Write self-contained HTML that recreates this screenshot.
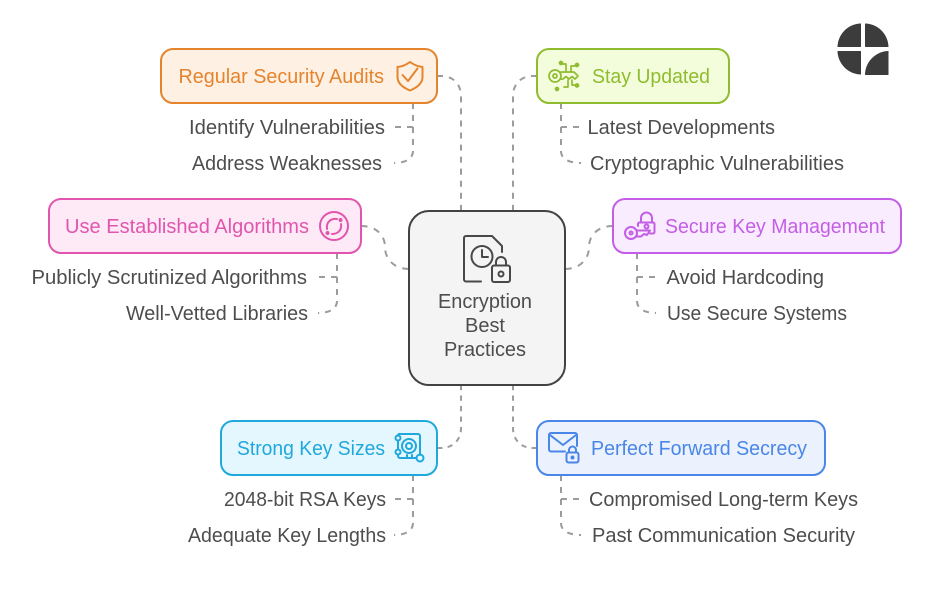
<!DOCTYPE html>
<html><head><meta charset="utf-8"><style>
html,body{margin:0;padding:0;background:#fff}
svg{display:block}
text{font-family:"Liberation Sans",sans-serif;font-size:20px;fill:#4d4d4d}
.c{fill:none;stroke:#9c9c9c;stroke-width:2;stroke-dasharray:6 6}
.i{fill:none;stroke-width:2;stroke-linecap:round;stroke-linejoin:round}
</style></head><body>
<svg width="926" height="596" viewBox="0 0 926 596" xmlns="http://www.w3.org/2000/svg">
<path class="c" pathLength="150" d="M437 76H441C453 76 461 84 461 96V211"/>
<path class="c" pathLength="150" d="M537 76H533C521 76 513 84 513 96V211"/>
<path class="c" pathLength="66" d="M361 226C376 226 385 235 385 247C385 259 394 269 409 269"/>
<path class="c" pathLength="66" d="M613 226C598 226 589 235 589 247C589 259 580 269 565 269"/>
<path class="c" pathLength="90" d="M461 385V428C461 440 453 448 441 448H437"/>
<path class="c" pathLength="90" d="M513 385V428C513 440 521 448 533 448H537"/>
<path class="c" d="M413 103V151C413 159 405 163 394 163"/>
<path class="c" d="M413 127H394"/>
<path class="c" d="M561 103V151C561 159 569 163 581 163"/>
<path class="c" d="M561 127H581"/>
<path class="c" d="M337 253V301C337 309 329 313 318 313"/>
<path class="c" d="M337 277H318"/>
<path class="c" d="M637 253V301C637 309 645 313 656 313"/>
<path class="c" d="M637 277H656"/>
<path class="c" d="M413 475V523C413 531 405 535 394 535"/>
<path class="c" d="M413 499H394"/>
<path class="c" d="M561 475V523C561 531 569 535 581 535"/>
<path class="c" d="M561 499H581"/>

<rect x="161" y="49" width="276" height="54" rx="12" fill="#fef0e3" stroke="#e5842d" stroke-width="2"/>
<rect x="537" y="49" width="192" height="54" rx="12" fill="#f3fddc" stroke="#8fbc2e" stroke-width="2"/>
<rect x="49" y="199" width="312" height="54" rx="12" fill="#fdeaf6" stroke="#e255ae" stroke-width="2"/>
<rect x="613" y="199" width="288" height="54" rx="12" fill="#f9ecfe" stroke="#c45ee6" stroke-width="2"/>
<rect x="221" y="421" width="216" height="54" rx="12" fill="#e5f7fe" stroke="#1fa8dc" stroke-width="2"/>
<rect x="537" y="421" width="288" height="54" rx="12" fill="#ebf2fe" stroke="#4a86e8" stroke-width="2"/>
<rect x="409" y="211" width="156" height="174" rx="20" fill="#f4f4f4" stroke="#424242" stroke-width="2"/>

<text x="178.500" y="83" textLength="205.500" lengthAdjust="spacingAndGlyphs" style="fill:#e5842d">Regular Security Audits</text>
<text x="189" y="134" textLength="196" lengthAdjust="spacingAndGlyphs">Identify Vulnerabilities</text>
<text x="192" y="170" textLength="190" lengthAdjust="spacingAndGlyphs">Address Weaknesses</text>
<text x="592" y="83" textLength="118" lengthAdjust="spacingAndGlyphs" style="fill:#8fbc2e">Stay Updated</text>
<text x="587.500" y="134" textLength="187.500" lengthAdjust="spacingAndGlyphs">Latest Developments</text>
<text x="590" y="170" textLength="254" lengthAdjust="spacingAndGlyphs">Cryptographic Vulnerabilities</text>
<text x="65" y="233" textLength="244" lengthAdjust="spacingAndGlyphs" style="fill:#e255ae">Use Established Algorithms</text>
<text x="31.500" y="284" textLength="275.500" lengthAdjust="spacingAndGlyphs">Publicly Scrutinized Algorithms</text>
<text x="126" y="320" textLength="182" lengthAdjust="spacingAndGlyphs">Well-Vetted Libraries</text>
<text x="665" y="233" textLength="220" lengthAdjust="spacingAndGlyphs" style="fill:#c45ee6">Secure Key Management</text>
<text x="666.500" y="284" textLength="157.500" lengthAdjust="spacingAndGlyphs">Avoid Hardcoding</text>
<text x="667" y="320" textLength="180" lengthAdjust="spacingAndGlyphs">Use Secure Systems</text>
<text x="237" y="455" textLength="148" lengthAdjust="spacingAndGlyphs" style="fill:#1fa8dc">Strong Key Sizes</text>
<text x="224" y="506" textLength="162" lengthAdjust="spacingAndGlyphs">2048-bit RSA Keys</text>
<text x="188" y="542" textLength="198" lengthAdjust="spacingAndGlyphs">Adequate Key Lengths</text>
<text x="591" y="455" textLength="216" lengthAdjust="spacingAndGlyphs" style="fill:#4a86e8">Perfect Forward Secrecy</text>
<text x="589" y="506" textLength="269" lengthAdjust="spacingAndGlyphs">Compromised Long-term Keys</text>
<text x="592" y="542" textLength="263" lengthAdjust="spacingAndGlyphs">Past Communication Security</text>
<text x="438" y="308" textLength="94" lengthAdjust="spacingAndGlyphs">Encryption</text>
<text x="465" y="332" textLength="40" lengthAdjust="spacingAndGlyphs">Best</text>
<text x="444" y="356" textLength="82" lengthAdjust="spacingAndGlyphs">Practices</text>

<!-- center icon -->
<g class="i" stroke="#484848">
<path d="M481 281.500H466a2 2 0 0 1-2-2V238a2 2 0 0 1 2-2H492L502 246V252"/>
<circle cx="482" cy="256.500" r="10.500"/><path d="M482 250V257H488"/>
<rect x="492" y="265.500" width="18" height="16.500" rx="2"/>
<path d="M496 265V262a5 5 0 0 1 10 0V265"/><circle cx="501" cy="274" r="2.500"/>
</g>
<!-- shield -->
<g class="i" stroke="#e5842d">
<path d="M410 62C404.500 66 401 66.500 397.500 67V77C397.500 84 404 88 410 90.500C416 88 422.500 84 422.500 77V67C419 66.500 415.500 66 410 62Z"/>
<path d="M402.500 75L408 81L417.500 68.500"/>
</g>
<!-- pink -->
<g class="i" stroke="#e255ae">
<circle cx="334" cy="226" r="14"/>
<path d="M327 229C326 222 331 218 337 219"/><path d="M341 224C342 230 338 234 332 234"/>
<circle cx="340.500" cy="220" r="1" fill="#e255ae"/><circle cx="327.500" cy="233" r="1" fill="#e255ae"/>
</g>
<!-- green key -->
<g class="i" stroke="#8fbc2e" style="stroke-width:1.700">
<circle cx="555" cy="76" r="6"/><circle cx="555" cy="76" r="2"/>
<path d="M561 72H574L578 76L575 79L572 76.500L569 79L566 76.500L563 79H560"/>
<path d="M566 72V64H563"/><path d="M571 72V66H575"/><path d="M568 80V87H564"/><path d="M572 80V85H575"/>
<circle cx="561" cy="63" r="1.500" fill="#8fbc2e"/><circle cx="577" cy="65" r="1.500" fill="#8fbc2e"/>
<circle cx="557" cy="89" r="1.500" fill="#8fbc2e"/><circle cx="577" cy="85.500" r="1.500" fill="#8fbc2e"/>
</g>
<!-- purple key/lock -->
<g class="i" stroke="#c45ee6">
<path d="M638 226V224a1.500 1.500 0 0 1 1.500-1.500H653a1.500 1.500 0 0 1 1.500 1.500V232a1.500 1.500 0 0 1-1.500 1.500H650"/>
<path d="M641 222V218a5.500 5.500 0 0 1 11 0V222"/><circle cx="646.500" cy="226.500" r="2"/>
<circle cx="631" cy="233" r="6"/><circle cx="631" cy="233" r="1.500"/>
<path d="M637 230.500H650L647 235L644 234L641 236.500H636.500"/>
</g>
<!-- teal -->
<g class="i" stroke="#1fa8dc">
<path d="M398 435.500A1.500 1.500 0 0 1 400 434H418a2 2 0 0 1 2 2V455"/>
<path d="M398 441V449M398 455V456a2 2 0 0 0 2 2H416"/>
<circle cx="409" cy="446" r="7"/><circle cx="409" cy="446" r="3"/>
<circle cx="398" cy="438" r="2.500"/><circle cx="398" cy="452" r="2.500"/><circle cx="420" cy="458" r="3.500"/>
<path d="M407 458V455M412 458V455"/>
</g>
<!-- blue -->
<g class="i" stroke="#4a86e8">
<path d="M565 451.500H551a2 2 0 0 1-2-2V435a2 2 0 0 1 2-2H575a2 2 0 0 1 2 2V446"/>
<path d="M550 435L563 445L576 435"/>
<rect x="566.500" y="452.500" width="12" height="10" rx="2"/>
<path d="M569 452.500V450a3.500 3.500 0 0 1 7 0V452.500"/><circle cx="572.500" cy="457.500" r="1" fill="#4a86e8"/>
</g>
<!-- logo -->
<g fill="#3c3c3c">
<path d="M861 23.500V46.500a.5 .5 0 0 1-.5 .5H837.500A24 24 0 0 1 861 23.500Z"/>
<path d="M865 23.500A24 24 0 0 1 888.500 47H865.500a.5 .5 0 0 1-.5-.5Z"/>
<path d="M837.500 51H860.500a.5 .5 0 0 1 .5 .5V74.500A24 24 0 0 1 837.500 51Z"/>
<path d="M888.500 51V74.500a.5 .5 0 0 1-.5 .5H865A24 24 0 0 1 888.500 51Z"/>
</g>
</svg>
</body></html>
